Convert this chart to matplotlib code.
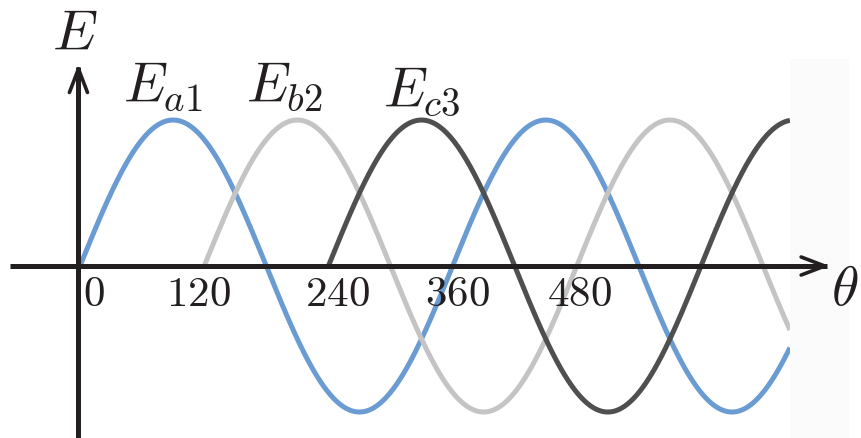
import numpy as np
import matplotlib.pyplot as plt

plt.rcParams['mathtext.fontset'] = 'cm'
plt.rcParams['font.family'] = 'serif'
plt.rcParams['font.serif'] = ['DejaVu Serif']

# phase shifts of the three phases (degrees) and their styling
phase_names = [r'$E_{a1}$', r'$E_{b2}$', r'$E_{c3}$']
phase_start = [0, 120, 240]
phase_colors = ['#6a9bd2', '#c4c4c4', '#4f4f4f']
label_pos = [(80, 1.13), (198, 1.13), (330, 1.10)]
amplitude = 1.0
theta_end = 686

tick_values = [0, 120, 240, 360, 480]
tick_offsets = [13, -6, 9, 5, 3]

ink = '#231f20'

fig = plt.figure(figsize=(8.62, 4.39), dpi=100)
ax = fig.add_axes([0, 0, 1, 1])
ax.set_xlim(-77.3, 755.6)
ax.set_ylim(-1.178, 1.829)
ax.axis('off')

for start, color in zip(phase_start, phase_colors):
    th = np.linspace(start, theta_end, 600)
    ax.plot(th, amplitude * np.sin(np.radians(th - start)), color=color,
            lw=3.6, solid_capstyle='butt', zorder=2)

# faint panel on the right side
ax.axvspan(686, 743, ymin=0, ymax=379 / 439, color='#fbfbfb', lw=0, zorder=3)

# axes: thick shafts with open arrow heads
ax.plot([-68, 722], [0, 0], color=ink, lw=3.6, solid_capstyle='butt', zorder=4)
ax.plot([-1.5, -1.5], [-1.2, 1.36], color=ink, lw=3.6, solid_capstyle='butt', zorder=4)
head = dict(arrowstyle='->,head_length=17,head_width=6.5', lw=2.6, color=ink,
            shrinkA=0, shrinkB=0, mutation_scale=1)
ax.annotate('', xy=(724.5, 0), xytext=(690, 0), arrowprops=head, zorder=5)
ax.annotate('', xy=(-1.5, 1.385), xytext=(-1.5, 1.15), arrowprops=head, zorder=5)

ax.text(-5, 1.486, r'$E$', fontsize=41, ha='center', va='baseline', color=ink)
ax.text(739, -0.26, r'$\theta$', fontsize=40, ha='center', va='baseline', color=ink)

for (x, y), name in zip(label_pos, phase_names):
    ax.text(x, y, name, fontsize=40, ha='center', va='baseline', color=ink)

for v, off in zip(tick_values, tick_offsets):
    ax.text(v + off, -0.04, f'${v}$', fontsize=31, ha='center', va='top',
            color=ink, zorder=5)

fig.savefig('out.png', dpi=100)
